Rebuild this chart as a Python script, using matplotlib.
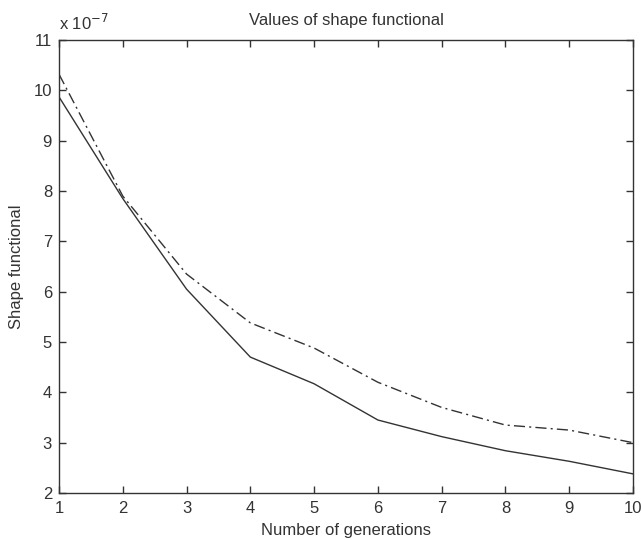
import matplotlib
matplotlib.use("Agg")
import matplotlib.pyplot as plt
from matplotlib.ticker import FuncFormatter

plt.rcParams['font.family'] = ['Liberation Sans', 'DejaVu Sans']

generations = [1, 2, 3, 4, 5, 6, 7, 8, 9, 10]
solid_vals = [9.87, 7.85, 6.05, 4.70, 4.17, 3.45, 3.12, 2.84, 2.63, 2.38]
dashdot_vals = [10.32, 7.90, 6.35, 5.38, 4.88, 4.20, 3.70, 3.35, 3.25, 3.00]
scale = 1e-7
yticks = [2, 3, 4, 5, 6, 7, 8, 9, 10, 11]

fs = 12
fig = plt.figure(figsize=(6.41, 5.40), dpi=100)
ax = fig.add_axes([59/641, 1 - 493/540, (633-59)/641, (493-40)/540])

ax.plot(generations, [v*scale for v in solid_vals], color='#333333', lw=1.0, ls='-')
ax.plot(generations, [v*scale for v in dashdot_vals], color='#333333', lw=1.0,
        ls=(0, (8, 3, 1.5, 3)))

ax.set_xlim(1, 10)
ax.set_ylim(2*scale, 11*scale)
ax.set_xticks(generations)
ax.set_yticks([t*scale for t in yticks])
ax.yaxis.set_major_formatter(FuncFormatter(lambda v, p: f"{v/scale:.0f}"))
ax.tick_params(direction='in', top=True, right=True, length=5, labelsize=fs,
               colors='#333333', width=1)
ax.tick_params(axis='x', pad=6)
ax.tick_params(axis='y', pad=5)
for s in ax.spines.values():
    s.set_color('#333333')
    s.set_linewidth(1.0)

ax.text(0.0, 1.015, r"x 10$^{-7}$", transform=ax.transAxes, fontsize=fs,
        color='#333333', ha='left', va='bottom')
ax.set_title("Values of shape functional", fontsize=fs, color='#333333', pad=11)
ax.set_xlabel("Number of generations", fontsize=fs, color='#333333', labelpad=5)
ax.set_ylabel("Shape functional", fontsize=fs, color='#333333', labelpad=7)

fig.savefig("out.png", dpi=100, facecolor='white')
